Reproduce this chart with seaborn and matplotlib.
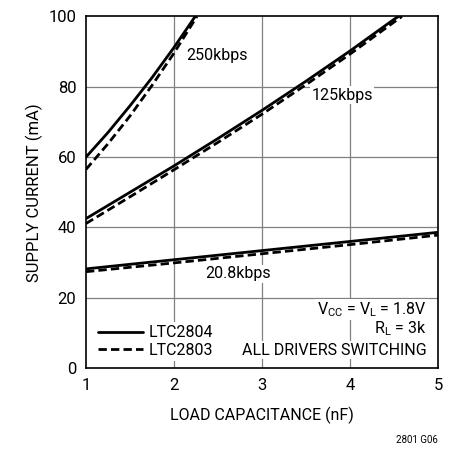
import numpy as np
import pandas as pd
import seaborn as sns
import matplotlib.pyplot as plt

# values
cap_250_2804 = [1, 1.25, 1.5, 1.75, 2, 2.24]
cur_250_2804 = [60, 67.0, 74.6, 82.6, 91.2, 100]
cap_250_2803 = [1, 1.25, 1.5, 1.75, 2, 2.26]
cur_250_2803 = [56.5, 63.8, 71.7, 80.4, 89.6, 100]

cap_125_2804 = [1, 1.5, 2, 2.5, 3, 3.5, 4, 4.5, 4.55]
cur_125_2804 = [42.5, 50.0, 57.5, 65.3, 73.3, 81.6, 90.2, 99.2, 100]
cap_125_2803 = [1, 1.5, 2, 2.5, 3, 3.5, 4, 4.5, 4.59]
cur_125_2803 = [41.1, 48.7, 56.4, 64.2, 72.2, 80.6, 89.3, 98.4, 100]

cap_208 = [1, 2, 3, 4, 5]
cur_208_2804 = [28.2, 30.8, 33.4, 36.0, 38.6]
cur_208_2803 = [27.4, 29.9, 32.5, 35.1, 37.8]

parts = ["LTC2804", "LTC2803"]

rows = []
for rate, part, xs, ys in [
    ("250kbps", "LTC2804", cap_250_2804, cur_250_2804),
    ("250kbps", "LTC2803", cap_250_2803, cur_250_2803),
    ("125kbps", "LTC2804", cap_125_2804, cur_125_2804),
    ("125kbps", "LTC2803", cap_125_2803, cur_125_2803),
    ("20.8kbps", "LTC2804", cap_208, cur_208_2804),
    ("20.8kbps", "LTC2803", cap_208, cur_208_2803),
]:
    for x, y in zip(xs, ys):
        rows.append({"rate": rate, "part": part, "cap": x, "cur": y})
df = pd.DataFrame(rows)
df["key"] = df["rate"] + df["part"]

sns.set_style("white")
plt.rcParams["font.family"] = ["Liberation Sans Narrow", "DejaVu Sans Condensed", "Roboto", "DejaVu Sans"]
plt.rcParams["mathtext.default"] = "regular"
plt.rcParams["text.color"] = "black"
plt.rcParams["axes.labelcolor"] = "black"
plt.rcParams["xtick.color"] = "black"
plt.rcParams["ytick.color"] = "black"

fig = plt.figure(figsize=(4.58, 4.51), dpi=100)
ax = fig.add_axes([86 / 458, 1 - 368 / 451, 352 / 458, 351.5 / 451])

# grid drawn by hand so the label boxes can cut it
for gx in [2, 3, 4]:
    ax.axvline(gx, color="#808080", lw=0.9, zorder=0.5)
for gy in [20, 40, 60, 80]:
    ax.axhline(gy, color="#808080", lw=0.9, zorder=0.5)

sns.lineplot(data=df, x="cap", y="cur", style="part", units="key", estimator=None,
             style_order=parts, dashes={"LTC2804": "", "LTC2803": (3, 1.5)},
             color="black", lw=2.0, sort=False, ax=ax, zorder=4)

ax.set_xlim(1, 5)
ax.set_ylim(0, 100)
ax.set_xticks([1, 2, 3, 4, 5])
ax.set_yticks([0, 20, 40, 60, 80, 100])
ax.tick_params(direction="in", length=4, width=0.9, labelsize=12, pad=7)
for s in ax.spines.values():
    s.set_color("black")
    s.set_linewidth(1.2)
ax.set_xlabel("LOAD CAPACITANCE (nF)", fontsize=11.5, labelpad=10)
ax.set_ylabel("SUPPLY CURRENT (mA)", fontsize=12, labelpad=4)

fs = 11.5
box = dict(facecolor="white", edgecolor="none", pad=1)
ax.text(2.49, 89, "250kbps", fontsize=fs, ha="center", va="center", bbox=box, zorder=3)
ax.text(3.91, 77.6, "125kbps", fontsize=fs, ha="center", va="center", bbox=box, zorder=3)
ax.text(2.73, 26.8, "20.8kbps", fontsize=fs, ha="center", va="center", bbox=box, zorder=3)
ax.text(4.87, 16.7, "V$_{CC}$ = V$_{L}$ = 1.8V", fontsize=fs, ha="right", va="center", bbox=box, zorder=3)
ax.text(4.87, 11.1, "R$_{L}$ = 3k", fontsize=fs, ha="right", va="center", bbox=box, zorder=3)
ax.text(4.87, 5.0, "ALL DRIVERS SWITCHING", fontsize=fs, ha="right", va="center", bbox=box, zorder=3)

handles, labels = ax.get_legend_handles_labels()
pairs = [(h, l) for h, l in zip(handles, labels) if l in parts]
leg = ax.legend([p[0] for p in pairs], [p[1] for p in pairs], loc="lower left",
                bbox_to_anchor=(0.025, 0.02), borderaxespad=0, fontsize=fs,
                handlelength=2.8, handletextpad=0.4, labelspacing=0.15,
                frameon=True, facecolor="white", edgecolor="none", framealpha=1,
                borderpad=0.2)
leg.set_zorder(2.2)

fig.text(438 / 458, 1 - 440 / 451, "2801 G06", fontsize=7, ha="right", va="center")

fig.savefig("out.png", dpi=100)
